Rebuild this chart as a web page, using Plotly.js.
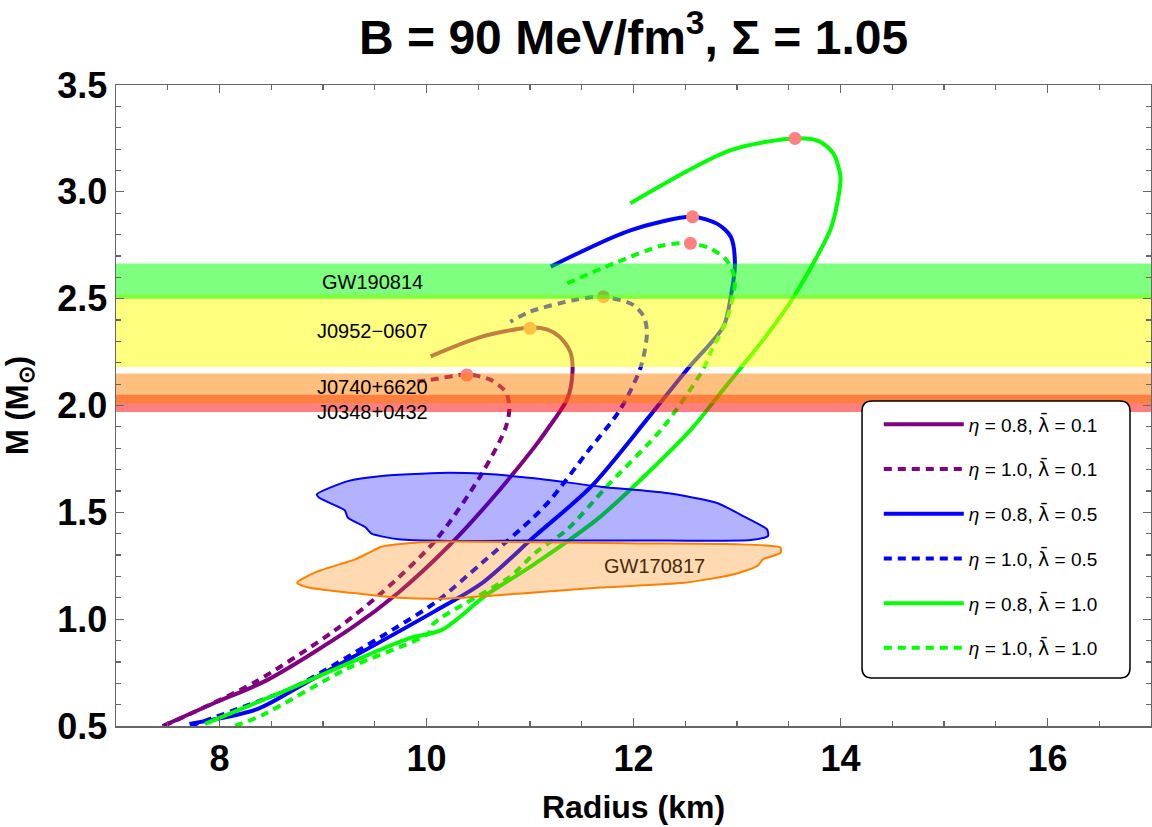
<!DOCTYPE html>
<html>
<head>
<meta charset="utf-8">
<script src="https://cdn.plot.ly/plotly-3.0.1.min.js"></script>
<style>
  body { margin: 0; background: #fff; }
  #myDiv { width: 1152px; height: 827px; }
</style>
</head>
<body>
<div id="myDiv"></div>
<script>
// M-R curves (R in km, M in solar masses)
var r08_01 = [7.45, 7.96, 8.44, 9.28, 9.73, 10.21, 10.60, 11.05, 11.17, 11.36, 11.41, 11.39, 11.29, 11.17, 11.00, 10.52, 10.04];
var m08_01 = [0.50, 0.61, 0.71, 0.96, 1.125, 1.34, 1.545, 1.81, 1.89, 2.03, 2.15, 2.25, 2.32, 2.355, 2.365, 2.32, 2.23];

var r10_01 = [7.46, 8.34, 9.12, 9.57, 10.09, 10.54, 10.76, 10.80, 10.77, 10.62, 10.39, 10.04, 9.87];
var m10_01 = [0.50, 0.705, 0.95, 1.125, 1.37, 1.685, 1.89, 1.98, 2.06, 2.12, 2.145, 2.12, 2.11];

var r08_05 = [7.71, 8.37, 8.79, 10.09, 10.54, 11.05, 11.59, 12.13, 12.52, 12.87, 12.94, 12.98, 12.94, 12.81, 12.57, 11.97, 11.20];
var m08_05 = [0.51, 0.58, 0.69, 1.04, 1.17, 1.39, 1.62, 1.935, 2.17, 2.37, 2.51, 2.665, 2.79, 2.85, 2.883, 2.82, 2.65];

var r10_05 = [7.72, 8.40, 8.73, 9.67, 10.09, 10.54, 11.02, 11.20, 11.55, 11.87, 12.07, 12.13, 12.10, 12.00, 11.71, 11.42, 11.00, 10.81];
var m10_05 = [0.50, 0.62, 0.684, 0.95, 1.08, 1.265, 1.47, 1.56, 1.78, 1.98, 2.18, 2.34, 2.415, 2.47, 2.509, 2.493, 2.439, 2.392];

var r08_10 = [7.86, 8.61, 9.83, 10.15, 10.57, 11.05, 11.68, 12.55, 12.81, 13.32, 13.55, 13.90, 13.97, 14.00, 13.93, 13.80, 13.56, 12.94, 11.97];
var m08_10 = [0.51, 0.66, 0.91, 0.95, 1.11, 1.26, 1.48, 1.885, 2.04, 2.35, 2.51, 2.82, 2.95, 3.07, 3.18, 3.235, 3.25, 3.195, 2.946];

var r10_10 = [8.15, 8.41, 9.24, 10.02, 10.07, 10.81, 11.05, 11.36, 11.74, 12.29, 12.68, 12.74, 12.90, 12.98, 12.90, 12.74, 12.55, 12.29, 11.81, 11.36];
var m10_10 = [0.50, 0.55, 0.77, 0.934, 0.98, 1.20, 1.31, 1.42, 1.62, 1.90, 2.175, 2.244, 2.40, 2.59, 2.68, 2.735, 2.759, 2.75, 2.665, 2.572];

// maximum mass points
var rMax = [11.00, 10.39, 12.57, 11.71, 13.56, 12.55];
var mMax = [2.361, 2.143, 2.883, 2.509, 3.25, 2.759];

// pulsar / GW mass bands [low, high]
var bandNames = ['J0348+0432', 'J0740+6620', 'J0952\u22120607', 'GW190814'];
var bandLow = [1.97, 2.01, 2.18, 2.50];
var bandHigh = [2.05, 2.15, 2.52, 2.665];
var bandLabelY = [1.971, 2.088, 2.35, 2.576];
var bandColors = ['rgba(255,0,0,0.5)', 'rgba(255,128,0,0.5)', 'rgba(255,255,0,0.5)', 'rgba(0,255,0,0.5)'];

// GW170817 contours
var blueR = [8.94, 9.24, 9.57, 10.21, 10.55, 11.04, 11.68, 12.32, 12.80, 13.07, 13.29, 13.30, 13.13, 12.32, 11.04, 10.21, 9.73, 9.47, 9.41, 9.24, 9.21, 9.06, 8.96, 8.94];
var blueM = [1.584, 1.646, 1.67, 1.685, 1.68, 1.66, 1.62, 1.59, 1.545, 1.48, 1.42, 1.39, 1.37, 1.368, 1.368, 1.366, 1.374, 1.40, 1.43, 1.475, 1.51, 1.545, 1.57, 1.584];
var orangeR = [8.75, 8.93, 9.31, 9.44, 9.57, 9.89, 10.21, 11.93, 13.42, 13.42, 13.25, 13.20, 12.97, 12.49, 11.68, 11.04, 10.23, 9.73, 9.24, 8.86, 8.75];
var orangeM = [1.17, 1.22, 1.28, 1.31, 1.34, 1.358, 1.363, 1.355, 1.335, 1.31, 1.28, 1.25, 1.21, 1.17, 1.148, 1.125, 1.097, 1.10, 1.125, 1.148, 1.17];

var fontFam = 'Liberation Sans, Arial, sans-serif';
// lambda with a bar: DejaVu places the combining macron properly
var lam = '<span style="font-family:DejaVu Sans">λ̄</span>';

function curve(r, m, name, color, dash) {
  return {
    x: r, y: m, name: name, type: 'scatter', mode: 'lines',
    legendgroup: name,
    line: { color: color, width: 4, dash: dash, shape: 'spline', smoothing: 0.8 },
    hoverinfo: 'skip'
  };
}

var data = [
  curve(r08_01, m08_01, '<i>η</i> = 0.8, ' + lam + ' = 0.1', '#800080', 'solid'),
  curve(r10_01, m10_01, '<i>η</i> = 1.0, ' + lam + ' = 0.1', '#800080', '8px,6px'),
  curve(r08_05, m08_05, '<i>η</i> = 0.8, ' + lam + ' = 0.5', '#0000ff', 'solid'),
  curve(r10_05, m10_05, '<i>η</i> = 1.0, ' + lam + ' = 0.5', '#0000ff', '8px,6px'),
  curve(r08_10, m08_10, '<i>η</i> = 0.8, ' + lam + ' = 1.0', '#00ff00', 'solid'),
  curve(r10_10, m10_10, '<i>η</i> = 1.0, ' + lam + ' = 1.0', '#00ff00', '8px,6px')
];

data.push({
  x: rMax, y: mMax, type: 'scatter', mode: 'markers', showlegend: false,
  marker: { color: '#ff8080', size: 13 }, hoverinfo: 'skip'
});

// bands drawn on top of the curves
for (var i = 0; i < bandLow.length; i++) {
  data.push({
    x: [7, 17, 17, 7, 7],
    y: [bandLow[i], bandLow[i], bandHigh[i], bandHigh[i], bandLow[i]],
    type: 'scatter', mode: 'lines', fill: 'toself', showlegend: false,
    fillcolor: bandColors[i], line: { width: 0 }, hoverinfo: 'skip'
  });
}

data.push({
  x: blueR, y: blueM, type: 'scatter', mode: 'lines', fill: 'toself', showlegend: false,
  fillcolor: 'rgba(0,0,255,0.3)', line: { color: '#0000ff', width: 2, shape: 'spline', smoothing: 0.6 },
  hoverinfo: 'skip'
});
data.push({
  x: orangeR, y: orangeM, type: 'scatter', mode: 'lines', fill: 'toself', showlegend: false,
  fillcolor: 'rgba(255,128,0,0.3)', line: { color: '#ff8000', width: 2, shape: 'spline', smoothing: 0.6 },
  hoverinfo: 'skip'
});

var annotations = [];
for (var j = 0; j < bandNames.length; j++) {
  annotations.push({
    x: 9.48, y: bandLabelY[j], text: bandNames[j], showarrow: false,
    font: { family: fontFam, size: 20, color: '#000' }
  });
}
annotations.push({
  x: 12.2, y: 1.25, text: 'GW170817', showarrow: false,
  font: { family: fontFam, size: 20, color: '#4a2a0a' }
});

// rounded frame behind the legend
var bx0 = 0.7208, bx1 = 0.9797, by0 = 0.0749, by1 = 0.507, rx = 0.0097, ry = 0.0156;
var boxPath = 'M' + (bx0 + rx) + ',' + by1 + ' L' + (bx1 - rx) + ',' + by1 +
  ' Q' + bx1 + ',' + by1 + ' ' + bx1 + ',' + (by1 - ry) +
  ' L' + bx1 + ',' + (by0 + ry) + ' Q' + bx1 + ',' + by0 + ' ' + (bx1 - rx) + ',' + by0 +
  ' L' + (bx0 + rx) + ',' + by0 + ' Q' + bx0 + ',' + by0 + ' ' + bx0 + ',' + (by0 + ry) +
  ' L' + bx0 + ',' + (by1 - ry) + ' Q' + bx0 + ',' + by1 + ' ' + (bx0 + rx) + ',' + by1 + ' Z';

var axisBase = {
  showgrid: false, zeroline: false,
  showline: true, linecolor: '#666', linewidth: 1.5, mirror: 'ticks',
  ticks: 'inside', ticklen: 8, tickwidth: 1.2, tickcolor: '#666',
  tickfont: { family: fontFam, size: 36, color: '#000', weight: 'bold' }
};

var layout = {
  width: 1152, height: 827,
  margin: { l: 116, r: 1, t: 85, b: 101 },
  paper_bgcolor: '#fff', plot_bgcolor: '#fff',
  title: {
    text: 'B = 90 MeV/fm<sup>3</sup>, Σ = 1.05',
    font: { family: fontFam, size: 48, color: '#000', weight: 'bold' },
    x: 0.55, xanchor: 'center', y: 0.955, yanchor: 'middle'
  },
  xaxis: Object.assign({}, axisBase, {
    range: [7, 17], tick0: 8, dtick: 2,
    minor: { dtick: 0.5, ticklen: 5, tickcolor: '#666', ticks: 'inside' },
    title: { text: 'Radius (km)', standoff: 18, font: { family: fontFam, size: 32, color: '#000', weight: 'bold' } }
  }),
  yaxis: Object.assign({}, axisBase, {
    range: [0.5, 3.5], tick0: 0.5, dtick: 0.5, tickformat: '.1f',
    minor: { dtick: 0.1, ticklen: 5, tickcolor: '#666', ticks: 'inside' },
    title: { text: 'M (M<sub>⊙</sub>)', standoff: 22, font: { family: fontFam, size: 31, color: '#000', weight: 'bold' } }
  }),
  legend: {
    x: 0.737, y: 0.5, xanchor: 'left', yanchor: 'top',
    bgcolor: 'rgba(0,0,0,0)', borderwidth: 0, itemwidth: 80,
    traceorder: 'grouped', tracegroupgap: 17,
    font: { family: fontFam, size: 19, color: '#000' }
  },
  shapes: [{
    type: 'path', xref: 'paper', yref: 'paper', path: boxPath, layer: 'above',
    fillcolor: '#fff', line: { color: '#000', width: 1.5 }
  }],
  annotations: annotations,
  hovermode: false
};

Plotly.newPlot('myDiv', data, layout, { staticPlot: true });
</script>
</body>
</html>
